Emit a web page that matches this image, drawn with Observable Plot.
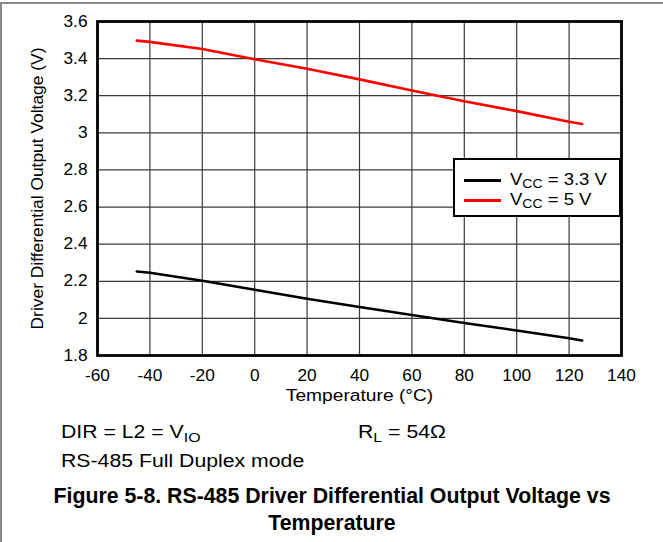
<!DOCTYPE html>
<html>
<head>
<meta charset="utf-8">
<script src="https://cdn.jsdelivr.net/npm/d3@7"></script>
<script src="https://cdn.jsdelivr.net/npm/@observablehq/plot@0.6"></script>
<style>
  html, body { margin: 0; padding: 0; background: #fff; }
  #wrap { position: relative; width: 663px; height: 542px; overflow: hidden; font-family: "Liberation Sans", Arial, sans-serif; color: #000; }
  #wrap svg { position: absolute; left: 0; top: 0; }
  .border-top { position: absolute; left: 0; top: 2px; width: 663px; height: 2px; background: #8a8a8a; }
  .border-left { position: absolute; left: 0; top: 2px; width: 2px; height: 540px; background: #8a8a8a; }
  .legend { position: absolute; left: 453px; top: 158px; width: 164px; height: 55px; border: 2.5px solid #000; background: #fff; }
  .lg-row { position: absolute; left: 0; height: 20px; width: 160px; }
  .lg-line { position: absolute; left: 9px; width: 37px; height: 2.5px; top: 9px; }
  .lg-text { position: absolute; left: 55px; top: 1px; font-size: 16.5px; line-height: 16.5px; white-space: nowrap; transform: scaleX(1.12); transform-origin: 0 0; }
  .sub { position: relative; font-size: 12.5px; top: 3px; }
  .note { position: absolute; font-size: 18px; line-height: 18px; white-space: nowrap; transform: scaleX(1.18); transform-origin: 0 0; }
  .caption { position: absolute; left: 0.5px; width: 663px; text-align: center; font-weight: bold; font-size: 21.3px; line-height: 27px; }
</style>
</head>
<body>
<div id="wrap">
  <div class="border-top"></div>
  <div class="border-left"></div>
</div>
<script>
// ---- data ----
const seriesNames = ["VCC = 3.3 V", "VCC = 5 V"];
const seriesColors = ["#000000", "#ff0000"];
const temps = [-45, -40, -20, 0, 20, 40, 60, 80, 100, 120, 125];
const vcc33 = [2.253, 2.246, 2.203, 2.154, 2.106, 2.061, 2.018, 1.975, 1.935, 1.893, 1.881];
const vcc5  = [3.497, 3.490, 3.452, 3.397, 3.345, 3.288, 3.228, 3.170, 3.117, 3.060, 3.048];
const xTicks = [-60, -40, -20, 0, 20, 40, 60, 80, 100, 120, 140];
const yTicks = [1.8, 2, 2.2, 2.4, 2.6, 2.8, 3, 3.2, 3.4, 3.6];
const xLabel = "Temperature (°C)";
const yLabel = "Driver Differential Output Voltage (V)";

const rows = [];
temps.forEach((t, i) => {
  rows.push({t, v: vcc33[i], s: seriesNames[0]});
});
temps.forEach((t, i) => {
  rows.push({t, v: vcc5[i], s: seriesNames[1]});
});

const chart = Plot.plot({
  width: 663,
  height: 410,
  marginLeft: 97,
  marginRight: 42,
  marginTop: 21,
  marginBottom: 55,
  style: { fontFamily: "'Liberation Sans', Arial, sans-serif", fontSize: "16px", color: "#000", background: "transparent", overflow: "visible" },
  x: { domain: [-60, 140] },
  y: { domain: [1.8, 3.6] },
  color: { domain: seriesNames, range: seriesColors },
  marks: [
    Plot.gridX(xTicks, { stroke: "#3a3a3a", strokeOpacity: 1, strokeWidth: 1.2 }),
    Plot.gridY(yTicks, { stroke: "#3a3a3a", strokeOpacity: 1, strokeWidth: 1.2 }),
    Plot.axisX(xTicks, { tickSize: 0, tickPadding: 14, tickFormat: d => String(d), label: null, fontSize: 16 }),
    Plot.axisY(yTicks, { tickSize: 0, tickPadding: 10, tickFormat: d => String(d), label: null, fontSize: 16 }),
    Plot.line(rows, { x: "t", y: "v", z: "s", stroke: "s", strokeWidth: 2.6 }),
    Plot.frame({ stroke: "#000", strokeWidth: 2.8 }),
    Plot.text([xLabel], { frameAnchor: "bottom", dy: 33, lineAnchor: "top", text: d => d, fontSize: 17 }),
    Plot.text([yLabel], { frameAnchor: "left", dx: -60.5, rotate: -90, textAnchor: "middle", lineAnchor: "middle", text: d => d, fontSize: 17.4 })
  ]
});
// widen horizontal texts slightly to match the reference's glyph proportions
chart.querySelectorAll('g[aria-label="x-axis tick label"] text, g[aria-label="y-axis tick label"] text').forEach(t => {
  t.setAttribute("transform", (t.getAttribute("transform") || "") + " scale(1.08,1)");
});
chart.querySelectorAll('g[aria-label="text"] text').forEach(t => {
  if (t.textContent === xLabel) t.setAttribute("transform", (t.getAttribute("transform") || "") + " scale(1.13,1)");
});
const wrap = document.getElementById("wrap");
wrap.appendChild(chart);

// legend
const legend = document.createElement("div");
legend.className = "legend";
seriesNames.forEach((name, i) => {
  const row = document.createElement("div");
  row.className = "lg-row";
  row.style.top = (10 + i * 20) + "px";
  const line = document.createElement("div");
  line.className = "lg-line";
  line.style.background = seriesColors[i];
  const txt = document.createElement("div");
  txt.className = "lg-text";
  const m = name.match(/^V(CC)(.*)$/);
  txt.innerHTML = "V<span class='sub'>" + m[1] + "</span>" + m[2];
  row.appendChild(line);
  row.appendChild(txt);
  legend.appendChild(row);
});
wrap.appendChild(legend);

// notes
function note(html, left, top) {
  const d = document.createElement("div");
  d.className = "note";
  d.style.left = left + "px";
  d.style.top = top + "px";
  d.innerHTML = html;
  wrap.appendChild(d);
}
note("DIR = L2 = V<span class='sub' style='top:4px;font-size:13.5px'>IO</span>", 61, 423.3);
note("R<span class='sub' style='top:4px;font-size:13.5px'>L</span> = 54Ω", 358, 423.3);
note("RS-485 Full Duplex mode", 61, 452.3);

const cap = document.createElement("div");
cap.className = "caption";
cap.style.top = "482.6px";
cap.innerHTML = "Figure 5-8. RS-485 Driver Differential Output Voltage vs<br>Temperature";
wrap.appendChild(cap);
</script>
</body>
</html>
